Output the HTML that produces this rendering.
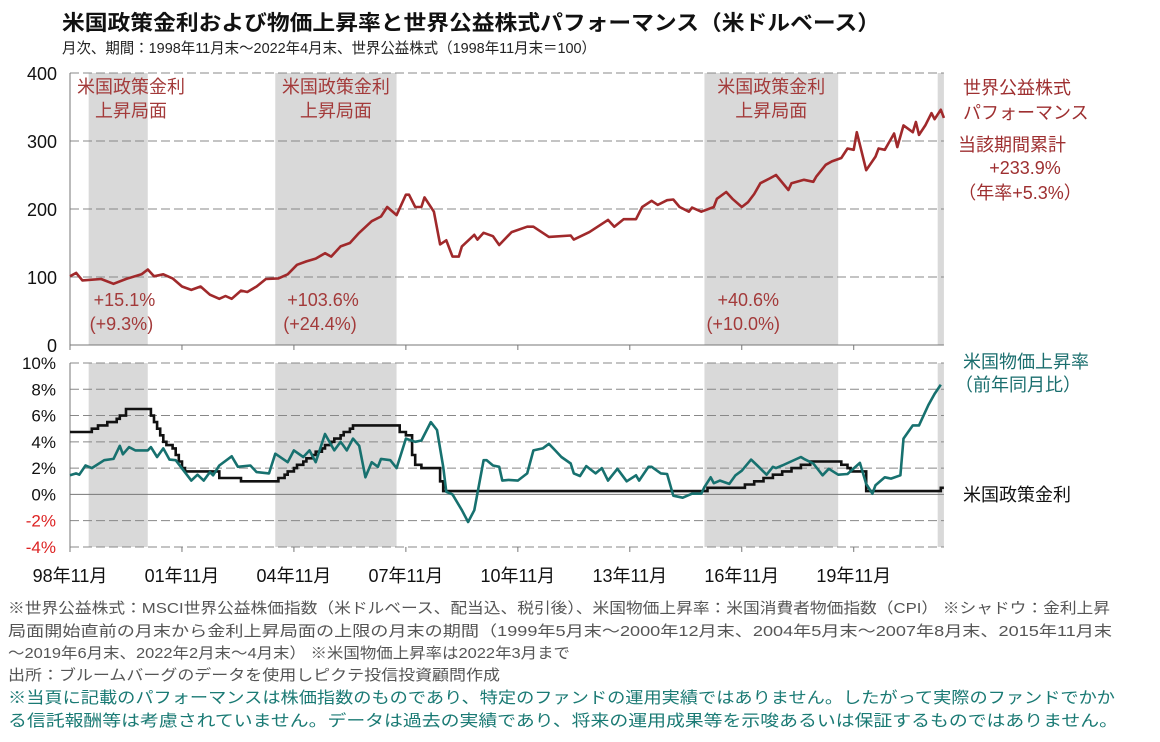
<!DOCTYPE html>
<html><head><meta charset="utf-8">
<style>
html,body{margin:0;padding:0;background:#fff;}
svg{display:block;font-family:"Liberation Sans","Noto Sans CJK JP",sans-serif;}
</style></head>
<body>
<svg id="chart" width="1160" height="742" viewBox="0 0 1160 742" xmlns="http://www.w3.org/2000/svg">
<text x="62" y="30" font-size="21" font-weight="bold" fill="#111" textLength="818" lengthAdjust="spacingAndGlyphs">米国政策金利および物価上昇率と世界公益株式パフォーマンス（米ドルベース）</text>
<text x="62" y="53" font-size="15" fill="#222" textLength="534" lengthAdjust="spacingAndGlyphs">月次、期間：1998年11月末～2022年4月末、世界公益株式（1998年11月末＝100）</text>
<g id="shades"></g>
<g id="grid"></g>
<g id="series"></g>
<g id="labels"></g>
<g font-size="18">
<text x="963" y="94" fill="#9e2f30">世界公益株式</text>
<text x="963" y="119" fill="#9e2f30">パフォーマンス</text>
<text x="958" y="151" fill="#9e2f30">当該期間累計</text>
<text x="1025" y="174" fill="#9e2f30" text-anchor="middle">+233.9%</text>
<text x="1020" y="199" fill="#9e2f30" text-anchor="middle">（年率+5.3%）</text>
<text x="963" y="368" fill="#1a6e6e">米国物価上昇率</text>
<text x="955" y="391" fill="#1a6e6e">（前年同月比）</text>
<text x="963" y="501" fill="#111">米国政策金利</text>
</g>
<g font-size="15" fill="#555">
<text x="8" y="613" textLength="1102" lengthAdjust="spacingAndGlyphs">※世界公益株式：MSCI世界公益株価指数（米ドルベース、配当込、税引後）、米国物価上昇率：米国消費者物価指数（CPI） ※シャドウ：金利上昇</text>
<text x="8" y="636" textLength="1104" lengthAdjust="spacingAndGlyphs">局面開始直前の月末から金利上昇局面の上限の月末の期間（1999年5月末～2000年12月末、2004年5月末～2007年8月末、2015年11月末</text>
<text x="8" y="658" textLength="562" lengthAdjust="spacingAndGlyphs">～2019年6月末、2022年2月末～4月末） ※米国物価上昇率は2022年3月まで</text>
<text x="8" y="680" textLength="492" lengthAdjust="spacingAndGlyphs">出所：ブルームバーグのデータを使用しピクテ投信投資顧問作成</text>
<text x="8" y="703" font-size="16" fill="#1a7a74" textLength="1107" lengthAdjust="spacingAndGlyphs">※当頁に記載のパフォーマンスは株価指数のものであり、特定のファンドの運用実績ではありません。したがって実際のファンドでかか</text>
<text x="8" y="726" font-size="16" fill="#1a7a74" textLength="1110" lengthAdjust="spacingAndGlyphs">る信託報酬等は考慮されていません。データは過去の実績であり、将来の運用成果等を示唆あるいは保証するものではありません。</text>
</g>
</svg>
<script>
// ---- data ----
const shadeStart = [6, 66, 204, 279];
const shadeEnd = [25, 105, 247, 281];
const xTickMonths = [0, 36, 72, 108, 144, 180, 216, 252];
const xTickLabels = ["98年11月","01年11月","04年11月","07年11月","10年11月","13年11月","16年11月","19年11月"];
const eqTicks = [0, 100, 200, 300, 400];
const pctTicks = [-4, -2, 0, 2, 4, 6, 8, 10];
const eqMonths = [0,2,4,10,14,18,23,25,27,30,33,36,39,42,45,48,50,52,55,57,60,63,67,70,73,76,79,82,84,87,90,93,97,100,102,105,108,109,111,113,114,117,119,121,123,125,126,130,131,133,136,138,142,147,149,154,161,162,167,173,175,178,182,184,187,189,192,194,196,199,200,203,207,208,211,213,216,218,220,222,225,227,231,232,236,239,240,243,245,248,250,252,253,256,259,260,262,265,266,268,271,272,273,275,277,278,280,281];
const eqValues = [101,106,95,97,90,97,104,111,101,104,98,86,81,86,74,68,72,68,80,78,86,97,98,104,118,123,127,135,130,145,150,165,182,189,203,191,221,221,203,203,217,196,148,154,130,130,145,162,155,165,160,147,166,174,174,159,161,155,166,184,174,185,185,203,212,206,213,214,203,196,202,196,203,215,225,215,203,210,222,238,245,250,228,238,243,240,248,265,270,275,289,287,313,257,277,289,287,311,291,323,313,328,309,323,341,332,346,334];
const cpiMonths = [0,2,3,5,7,11,14,16,17,19,21,25,26,28,30,32,34,39,41,43,45,46,48,52,54,58,60,64,66,70,72,75,77,79,82,85,87,89,91,93,95,97,99,100,103,105,108,111,113,116,118,120,121,123,126,128,130,133,134,136,138,139,141,144,147,149,152,154,156,158,161,162,164,166,169,171,173,176,179,182,183,186,187,190,192,194,197,200,203,204,206,207,209,212,214,216,219,221,224,226,227,229,235,236,239,242,244,247,250,254,256,258,259,262,264,267,268,271,273,276,278,280];
const cpiValues = [1.45,1.6,1.5,2.2,2.0,2.6,2.7,3.7,3.05,3.6,3.35,3.35,3.6,2.85,3.5,2.65,2.6,1.05,1.5,1.05,1.7,1.45,2.2,2.9,2.1,2.2,1.7,1.6,3.1,2.45,3.35,2.85,3.35,2.45,4.6,3.35,4.0,3.35,4.25,3.7,1.3,2.45,2.1,2.7,2.6,2.0,4.25,4.0,4.1,5.5,4.9,2.1,0.2,0.0,-1.2,-2.1,-1.2,2.6,2.6,2.2,2.1,1.05,1.1,1.05,1.6,3.35,3.5,3.85,3.35,2.85,2.35,1.6,1.4,2.15,1.6,2.0,1.05,1.95,1.0,1.45,1.05,2.1,2.1,1.6,1.55,-0.1,-0.25,0.05,0.05,0.55,1.3,0.85,1.05,0.8,1.45,1.8,2.65,2.2,1.5,2.1,2.0,2.2,2.85,2.7,2.35,1.45,1.95,1.5,1.55,2.4,0.8,0.05,0.7,1.3,1.2,1.45,4.25,5.25,5.25,6.8,7.65,8.35];
const rateMonths = [0,7,9,12,15,16,18,26,27,28,29,30,31,33,34,35,36,37,48,55,67,69,70,72,73,75,76,78,79,81,82,84,85,87,88,90,91,106,108,110,111,113,119,120,205,217,220,223,226,229,232,235,238,248,250,251,256,280];
const rateValues = [4.75,5.0,5.25,5.5,5.75,6.0,6.5,6.0,5.5,5.0,4.5,4.0,3.75,3.5,3.0,2.5,2.0,1.75,1.25,1.0,1.25,1.5,1.75,2.0,2.25,2.5,2.75,3.0,3.25,3.5,3.75,4.0,4.25,4.5,4.75,5.0,5.25,4.75,4.5,3.0,2.25,2.0,1.0,0.25,0.5,0.75,1.0,1.25,1.5,1.75,2.0,2.25,2.5,2.25,2.0,1.75,0.25,0.5];
const lastMonth = 281;

// ---- axes ----
const X0 = 70, XW = 3.11;
const xS = m => X0 + m * XW;
const yEq = v => 345 - v * 0.68;
const yPct = v => 494.4 - v * 13.14;
const NS = "http://www.w3.org/2000/svg";
function mk(tag, parent, attrs){ const e=document.createElementNS(NS,tag); for(const k in attrs) e.setAttribute(k,attrs[k]); parent.appendChild(e); return e; }
const gS=document.getElementById('shades'), gG=document.getElementById('grid'), gSe=document.getElementById('series'), gL=document.getElementById('labels');
const xEnd = xS(lastMonth);

// shading
shadeStart.forEach((s,i)=>{
  [[yEq(400),yEq(0)],[yPct(10),yPct(-4)]].forEach((r,j)=>{
    const el=mk('rect',gS,{x:xS(s),y:r[0],width:xS(shadeEnd[i])-xS(s),height:r[1]-r[0],fill:'#d9d9d9'});
    
    
  });
});
// top grid
eqTicks.forEach(v=>{
  const y=yEq(v);
  const ln=mk('line',gG,{x1:X0,x2:xEnd,y1:y,y2:y,stroke:v===0?'#777':'#888','stroke-width':1,'stroke-dasharray':v===0?'':'9 4'});
  
  
  const t=mk('text',gL,{x:57,y:y+7,'font-size':18,'text-anchor':'end',fill:'#111'});
  t.textContent=v;
  
  
});
// bottom grid
pctTicks.forEach(v=>{
  const y=yPct(v);
  const ln=mk('line',gG,{x1:X0,x2:xEnd,y1:y,y2:y,stroke:v===0?'#777':'#888','stroke-width':1,'stroke-dasharray':v===0?'':'9 4'});
  
  
  const t=mk('text',gL,{x:56,y:y+6,'font-size':17,'text-anchor':'end',fill:v<0?'#d22':'#111'});
  t.textContent=v+'%';
  
  
});
// axes lines
let a=mk('line',gG,{x1:X0,x2:X0,y1:yEq(400),y2:yEq(0),stroke:'#777'});


a=mk('line',gG,{x1:X0,x2:X0,y1:yPct(10),y2:yPct(-4),stroke:'#777'});


a=mk('line',gG,{x1:X0,x2:xEnd,y1:yPct(-4),y2:yPct(-4),stroke:'#888','stroke-dasharray':'9 4'});


// x ticks
xTickMonths.forEach((m,i)=>{
  const x=xS(m);
  let tk=mk('line',gG,{x1:x,x2:x,y1:yEq(0),y2:yEq(0)+5,stroke:'#777'});
  
  
  tk=mk('line',gG,{x1:x,x2:x,y1:yPct(-4),y2:yPct(-4)+5,stroke:'#777'});
  
  
  const t=mk('text',gL,{x:x,y:582,'font-size':18,'text-anchor':'middle',fill:'#111'});
  t.textContent=xTickLabels[i];
  
  
});
// series
let d=eqMonths.map((m,i)=>(i?'L':'M')+xS(m).toFixed(1)+' '+yEq(eqValues[i]).toFixed(1)).join(' ');
let p=mk('path',gSe,{d:d,fill:'none',stroke:'#a0292b','stroke-width':2.6,'stroke-linejoin':'round'});


d='';
rateMonths.forEach((m,i)=>{
  const y=yPct(rateValues[i]).toFixed(1);
  d+= (i? 'L'+xS(m).toFixed(1)+' '+yPct(rateValues[i-1]).toFixed(1)+' L' : 'M') + xS(m).toFixed(1)+' '+y+' ';
});
d+='L'+xS(lastMonth).toFixed(1)+' '+yPct(rateValues[rateValues.length-1]).toFixed(1);
p=mk('path',gSe,{d:d,fill:'none',stroke:'#111','stroke-width':2.6});


d=cpiMonths.map((m,i)=>(i?'L':'M')+xS(m).toFixed(1)+' '+yPct(cpiValues[i]).toFixed(1)).join(' ');
p=mk('path',gSe,{d:d,fill:'none',stroke:'#17716f','stroke-width':2.6,'stroke-linejoin':'round'});


// shade annotations
const annPeriods=[0,1,2];
const annPct=["+15.1%","+103.6%","+40.6%"];
const annAnn=["(+9.3%)","(+24.4%)","(+10.0%)"];
annPeriods.forEach(i=>{
  const cx=(xS(shadeStart[i])+xS(shadeEnd[i]))/2;
  const cx0 = i===0 ? 131 : cx;
  [["米国政策金利",93],["上昇局面",117]].forEach(r=>{
    const t=mk('text',gL,{x:cx0,y:r[1],'font-size':18,'text-anchor':'middle',fill:'#a33a3a'});
    t.textContent=r[0];
    
    
  });
  const lx = xS(shadeStart[i])+ (i===0?1:i===1?8:2);
  let t=mk('text',gL,{x:lx+ (i===2?11:4),y:306,'font-size':18,fill:'#a33a3a'});
  t.textContent=annPct[i];
  
  
  t=mk('text',gL,{x:lx,y:330,'font-size':18,fill:'#a33a3a'});
  t.textContent=annAnn[i];
  
  
});
</script>
</body></html>
